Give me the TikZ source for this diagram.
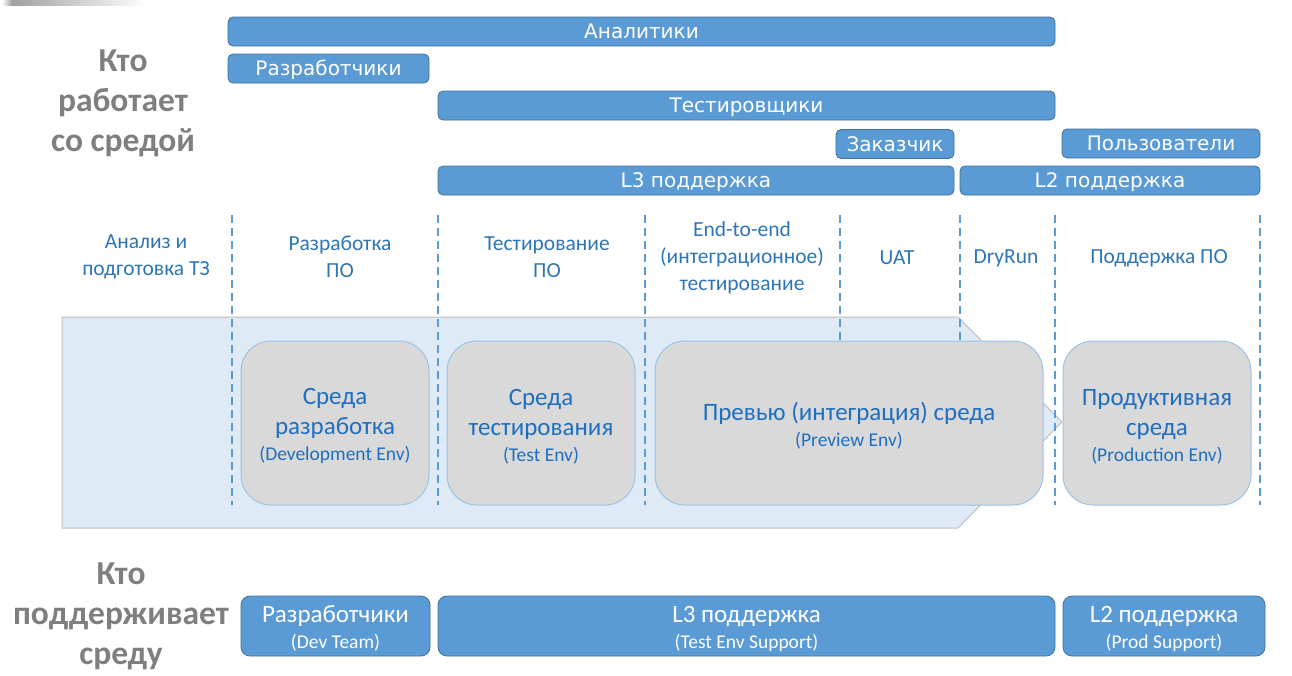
\documentclass[tikz,border=0pt]{standalone}
\usepackage{fontspec}
\setmainfont{Carlito}
\newfontfamily\dejavu{DejaVu Sans}
\definecolor{barblue}{HTML}{5B9BD5}
\definecolor{barline}{HTML}{41719C}
\definecolor{envfill}{HTML}{D9D9D9}
\definecolor{envline}{HTML}{9DC3E6}
\definecolor{arrowfill}{HTML}{DEEAF6}
\definecolor{arrowline}{HTML}{BFBFBF}
\definecolor{titlegray}{HTML}{7F7F7F}
\definecolor{phaseblue}{HTML}{2E75B6}
\definecolor{envtext}{HTML}{1F6FC1}
\newcommand{\subtxt}[1]{{\fontsize{19.5}{22}\selectfont #1}}
\newcommand{\upstrut}[1]{\rule{0pt}{#1}}
\begin{document}
\begin{tikzpicture}[x=1pt,y=-1pt,
  topbar/.style={draw=barline, line width=0.8pt, fill=barblue, rounded corners=5pt,
    minimum height=29pt, inner sep=0pt, text height=14.5pt, text depth=0pt,
    text=white, font=\dejavu\fontsize{20}{22}\selectfont},
  botbar/.style={draw=barline, line width=0.8pt, fill=barblue, rounded corners=9pt,
    minimum height=60pt, inner sep=0pt, text=white, align=center, font=\fontsize{25}{26}\selectfont},
  envbox/.style={draw=envline, line width=1pt, fill=envfill, rounded corners=30pt,
    minimum height=164pt, inner sep=0pt, text=envtext, align=center, font=\fontsize{25}{30}\selectfont},
  phase/.style={text=phaseblue, align=center, font=\fontsize{21.5}{27}\selectfont, inner sep=0pt},
  whotitle/.style={text=titlegray, align=center, font=\bfseries\fontsize{33.5}{40}\selectfont, inner sep=0pt},
  phaseline/.style={draw=barblue, line width=2.4pt, dash pattern=on 8pt off 5pt},
]
\useasboundingbox (0,0) rectangle (1292,675);
% top-left shadow artifact
\shade[left color=gray!75, right color=white] (12,0) rectangle (145,5);
\shade[left color=white, right color=gray!75] (2,0) rectangle (12,5);

% titles
\node[whotitle] (who1) at (123,103) {Кто\\работает\\со средой};
\node[whotitle] (who2) at (121,616) {Кто\\поддерживает\\среду};

% top bars
\node[topbar, minimum width=827pt] (analysts) at (641.5,31.5) {Аналитики};
\node[topbar, minimum width=201pt] (devs) at (328.5,68.5) {Разработчики};
\node[topbar, minimum width=617pt] (testers) at (746.5,105.5) {Тестировщики};
\node[topbar, minimum width=118pt] (customer) at (895,144) {Заказчик};
\node[topbar, minimum width=198pt] (users) at (1161,143.5) {Пользователи};
\node[topbar, minimum width=516pt] (l3top) at (696,180.5) {L3 поддержка};
\node[topbar, minimum width=300pt] (l2top) at (1110,180.5) {L2 поддержка};

% phase labels
\node[phase] (ph1) at (146,257) {Анализ и\\подготовка ТЗ};
\node[phase] (ph2) at (340,257) {Разработка\\ПО};
\node[phase] (ph3) at (547,257) {Тестирование\\ПО};
\node[phase] (ph4) at (742,258) {End-to-end\\(интеграционное)\\тестирование};
\node[phase] (ph5) at (897,258) {UAT};
\node[phase] (ph6) at (1006,258) {DryRun};
\node[phase] (ph7) at (1159,258) {Поддержка ПО};

% big arrow background
\filldraw[fill=arrowfill, draw=arrowline, line width=1pt]
  (62,317) -- (958,317) -- (1062,422) -- (958,528) -- (62,528) -- cycle;

% dashed phase separators
\foreach \xx in {232,438,645,840,960,1055,1260}
  \draw[phaseline] (\xx,215) -- (\xx,505);

% environment boxes
\node[envbox, minimum width=188pt] (devenv) at (335,423)
  {\upstrut{23pt}Среда\\разработка\\[-4pt]\subtxt{(Development Env)}};
\node[envbox, minimum width=188pt] (testenv) at (541,423)
  {\upstrut{23pt}Среда\\тестирования\\[-4pt]\subtxt{(Test Env)}};
\node[envbox, minimum width=388pt] (prevenv) at (849,423)
  {\upstrut{23pt}Превью (интеграция) среда\\[-4pt]\subtxt{(Preview Env)}};
\node[envbox, minimum width=188pt] (prodenv) at (1157,423)
  {\upstrut{23pt}Продуктивная\\среда\\[-4pt]\subtxt{(Production Env)}};

% bottom bars
\node[botbar, minimum width=189pt] (devteam) at (335.5,626)
  {\upstrut{21.5pt}Разработчики\\\subtxt{(Dev Team)}};
\node[botbar, minimum width=617pt] (l3bot) at (746.5,626)
  {\upstrut{21.5pt}L3 поддержка\\\subtxt{(Test Env Support)}};
\node[botbar, minimum width=202pt] (l2bot) at (1164,626)
  {\upstrut{21.5pt}L2 поддержка\\\subtxt{(Prod Support)}};
\end{tikzpicture}
\end{document}
